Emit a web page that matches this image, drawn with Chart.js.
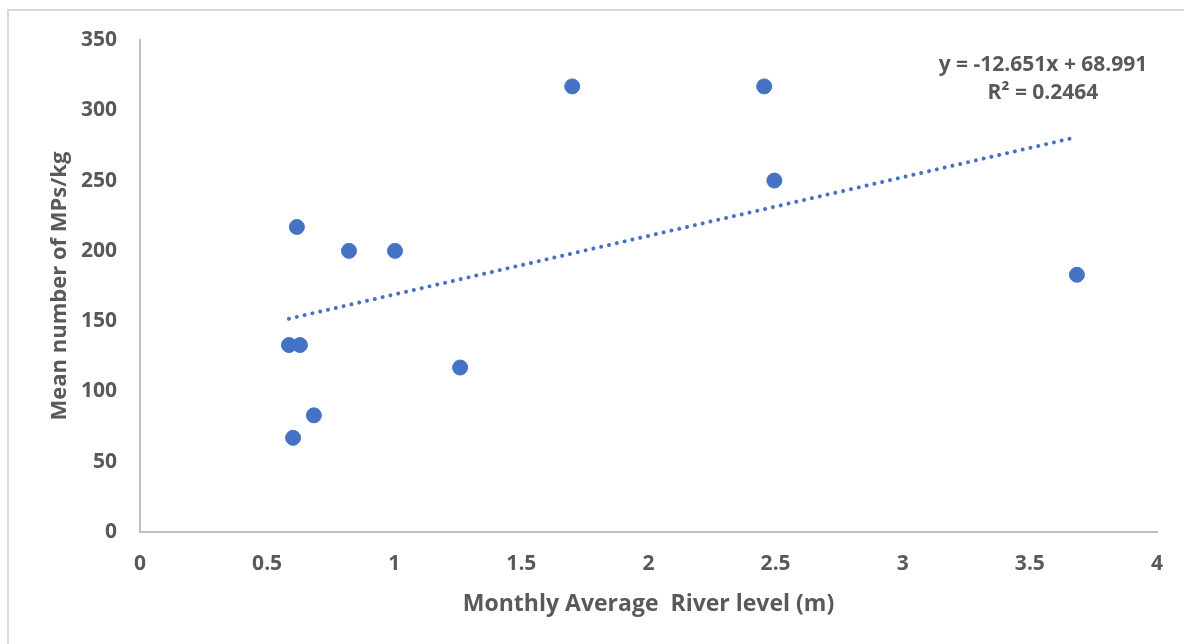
<!DOCTYPE html>
<html>
<head>
<meta charset="utf-8">
<title>River level vs MPs</title>
<script src="https://cdn.jsdelivr.net/npm/chart.js@4.4.1/dist/chart.umd.min.js"></script>
<style>
  html, body { margin: 0; padding: 0; background: #ffffff; overflow: hidden; }
  #frame {
    position: absolute; left: 7px; top: 9px; width: 1200px; height: 660px;
    border-left: 2px solid #d9d9d9; border-top: 2px solid #d9d9d9;
  }
  #wrap { position: absolute; left: 0; top: 0; width: 1184px; height: 644px; }
</style>
</head>
<body>
<div id="frame"></div>
<div id="wrap"><canvas id="scatterChart" width="1184" height="644"></canvas></div>
<script>
// Monthly average river level (m) and mean MPs per kg, one pair per month
var riverLevel = [1.70, 2.455, 2.495, 0.617, 0.822, 1.003, 3.685, 0.586, 0.629, 1.259, 0.684, 0.602];
var mpsPerKg   = [317, 317, 250, 217, 200, 200, 183, 133, 133, 117, 83, 67];

// Trendline annotation as printed on the chart
var trendLabel = ["y = -12.651x + 68.991", "R\u00b2 = 0.2464"];

var xTicks = [0, 0.5, 1, 1.5, 2, 2.5, 3, 3.5, 4];
var yTicks = [0, 50, 100, 150, 200, 250, 300, 350];

var textColor = "#595959";
var axisColor = "#bfbfbf";
var pointColor = "#4472c4";
var fontFamily = "'Open Sans', 'DejaVu Sans', sans-serif";

var points = riverLevel.map(function (x, i) {
  return { x: x, y: mpsPerKg[i] };
});

// least squares fit over the data, drawn between min and max x
function linearFit(xs, ys) {
  var n = xs.length, mx = 0, my = 0;
  for (var i = 0; i < n; i++) { mx += xs[i]; my += ys[i]; }
  mx /= n; my /= n;
  var sxy = 0, sxx = 0;
  for (var j = 0; j < n; j++) {
    sxy += (xs[j] - mx) * (ys[j] - my);
    sxx += (xs[j] - mx) * (xs[j] - mx);
  }
  var slope = sxy / sxx;
  return { slope: slope, intercept: my - slope * mx };
}
var fit = linearFit(riverLevel, mpsPerKg);
var xMin = Math.min.apply(null, riverLevel);
var xMax = Math.max.apply(null, riverLevel);
var trendPoints = [
  { x: xMin, y: fit.intercept + fit.slope * xMin },
  { x: xMax, y: fit.intercept + fit.slope * xMax }
];

var trendLabelPlugin = {
  id: "trendLabel",
  afterDatasetsDraw: function (chart) {
    var ctx = chart.ctx, area = chart.chartArea;
    ctx.save();
    ctx.font = "bold 21px " + fontFamily;
    ctx.fillStyle = textColor;
    ctx.textAlign = "center";
    ctx.textBaseline = "middle";
    ctx.fillText(trendLabel[0], area.right - 114, area.top + 25);
    ctx.fillText(trendLabel[1], area.right - 114, area.top + 53);
    ctx.restore();
  }
};

var ctx = document.getElementById("scatterChart");
new Chart(ctx, {
  type: "scatter",
  data: {
    datasets: [
      {
        label: "MPs/kg",
        data: points,
        backgroundColor: pointColor,
        borderColor: pointColor,
        pointRadius: 7.5,
        pointHoverRadius: 7.5,
        order: 1
      },
      {
        label: "Linear trend",
        type: "line",
        data: trendPoints,
        showLine: true,
        borderColor: pointColor,
        borderWidth: 4,
        borderCapStyle: "round",
        borderDash: [0.01, 8],
        pointRadius: 0,
        fill: false,
        order: 2
      }
    ]
  },
  options: {
    responsive: false,
    animation: false,
    devicePixelRatio: 1,
    layout: { padding: { top: 40, right: 27, bottom: 0, left: 0 } },
    plugins: {
      legend: { display: false },
      tooltip: { enabled: false }
    },
    scales: {
      x: {
        type: "linear",
        min: 0,
        max: 4,
        afterBuildTicks: function (axis) {
          axis.ticks = xTicks.map(function (v) { return { value: v }; });
        },
        afterFit: function (axis) { axis.height = 112; },
        grid: { display: false, drawTicks: false },
        border: { display: true, color: axisColor, width: 2 },
        ticks: {
          padding: 19,
          color: textColor,
          font: { family: fontFamily, size: 21, weight: "bold" },
          callback: function (v) { return String(v); }
        },
        title: {
          display: true,
          text: "Monthly Average  River level (m)",
          color: textColor,
          font: { family: fontFamily, size: 23, weight: "bold" },
          padding: { top: 0, bottom: 26 }
        }
      },
      y: {
        type: "linear",
        min: 0,
        max: 350,
        afterBuildTicks: function (axis) {
          axis.ticks = yTicks.map(function (v) { return { value: v }; });
        },
        afterFit: function (axis) { axis.width = 140; },
        grid: { display: false, drawTicks: false },
        border: { display: true, color: axisColor, width: 2 },
        ticks: {
          padding: 23,
          color: textColor,
          font: { family: fontFamily, size: 21, weight: "bold" },
          callback: function (v) { return String(v); }
        },
        title: {
          display: true,
          text: "Mean number of MPs/kg",
          color: textColor,
          font: { family: fontFamily, size: 22, weight: "bold" },
          padding: { top: 47, bottom: 0 }
        }
      }
    }
  },
  plugins: [trendLabelPlugin]
});
</script>
</body>
</html>
